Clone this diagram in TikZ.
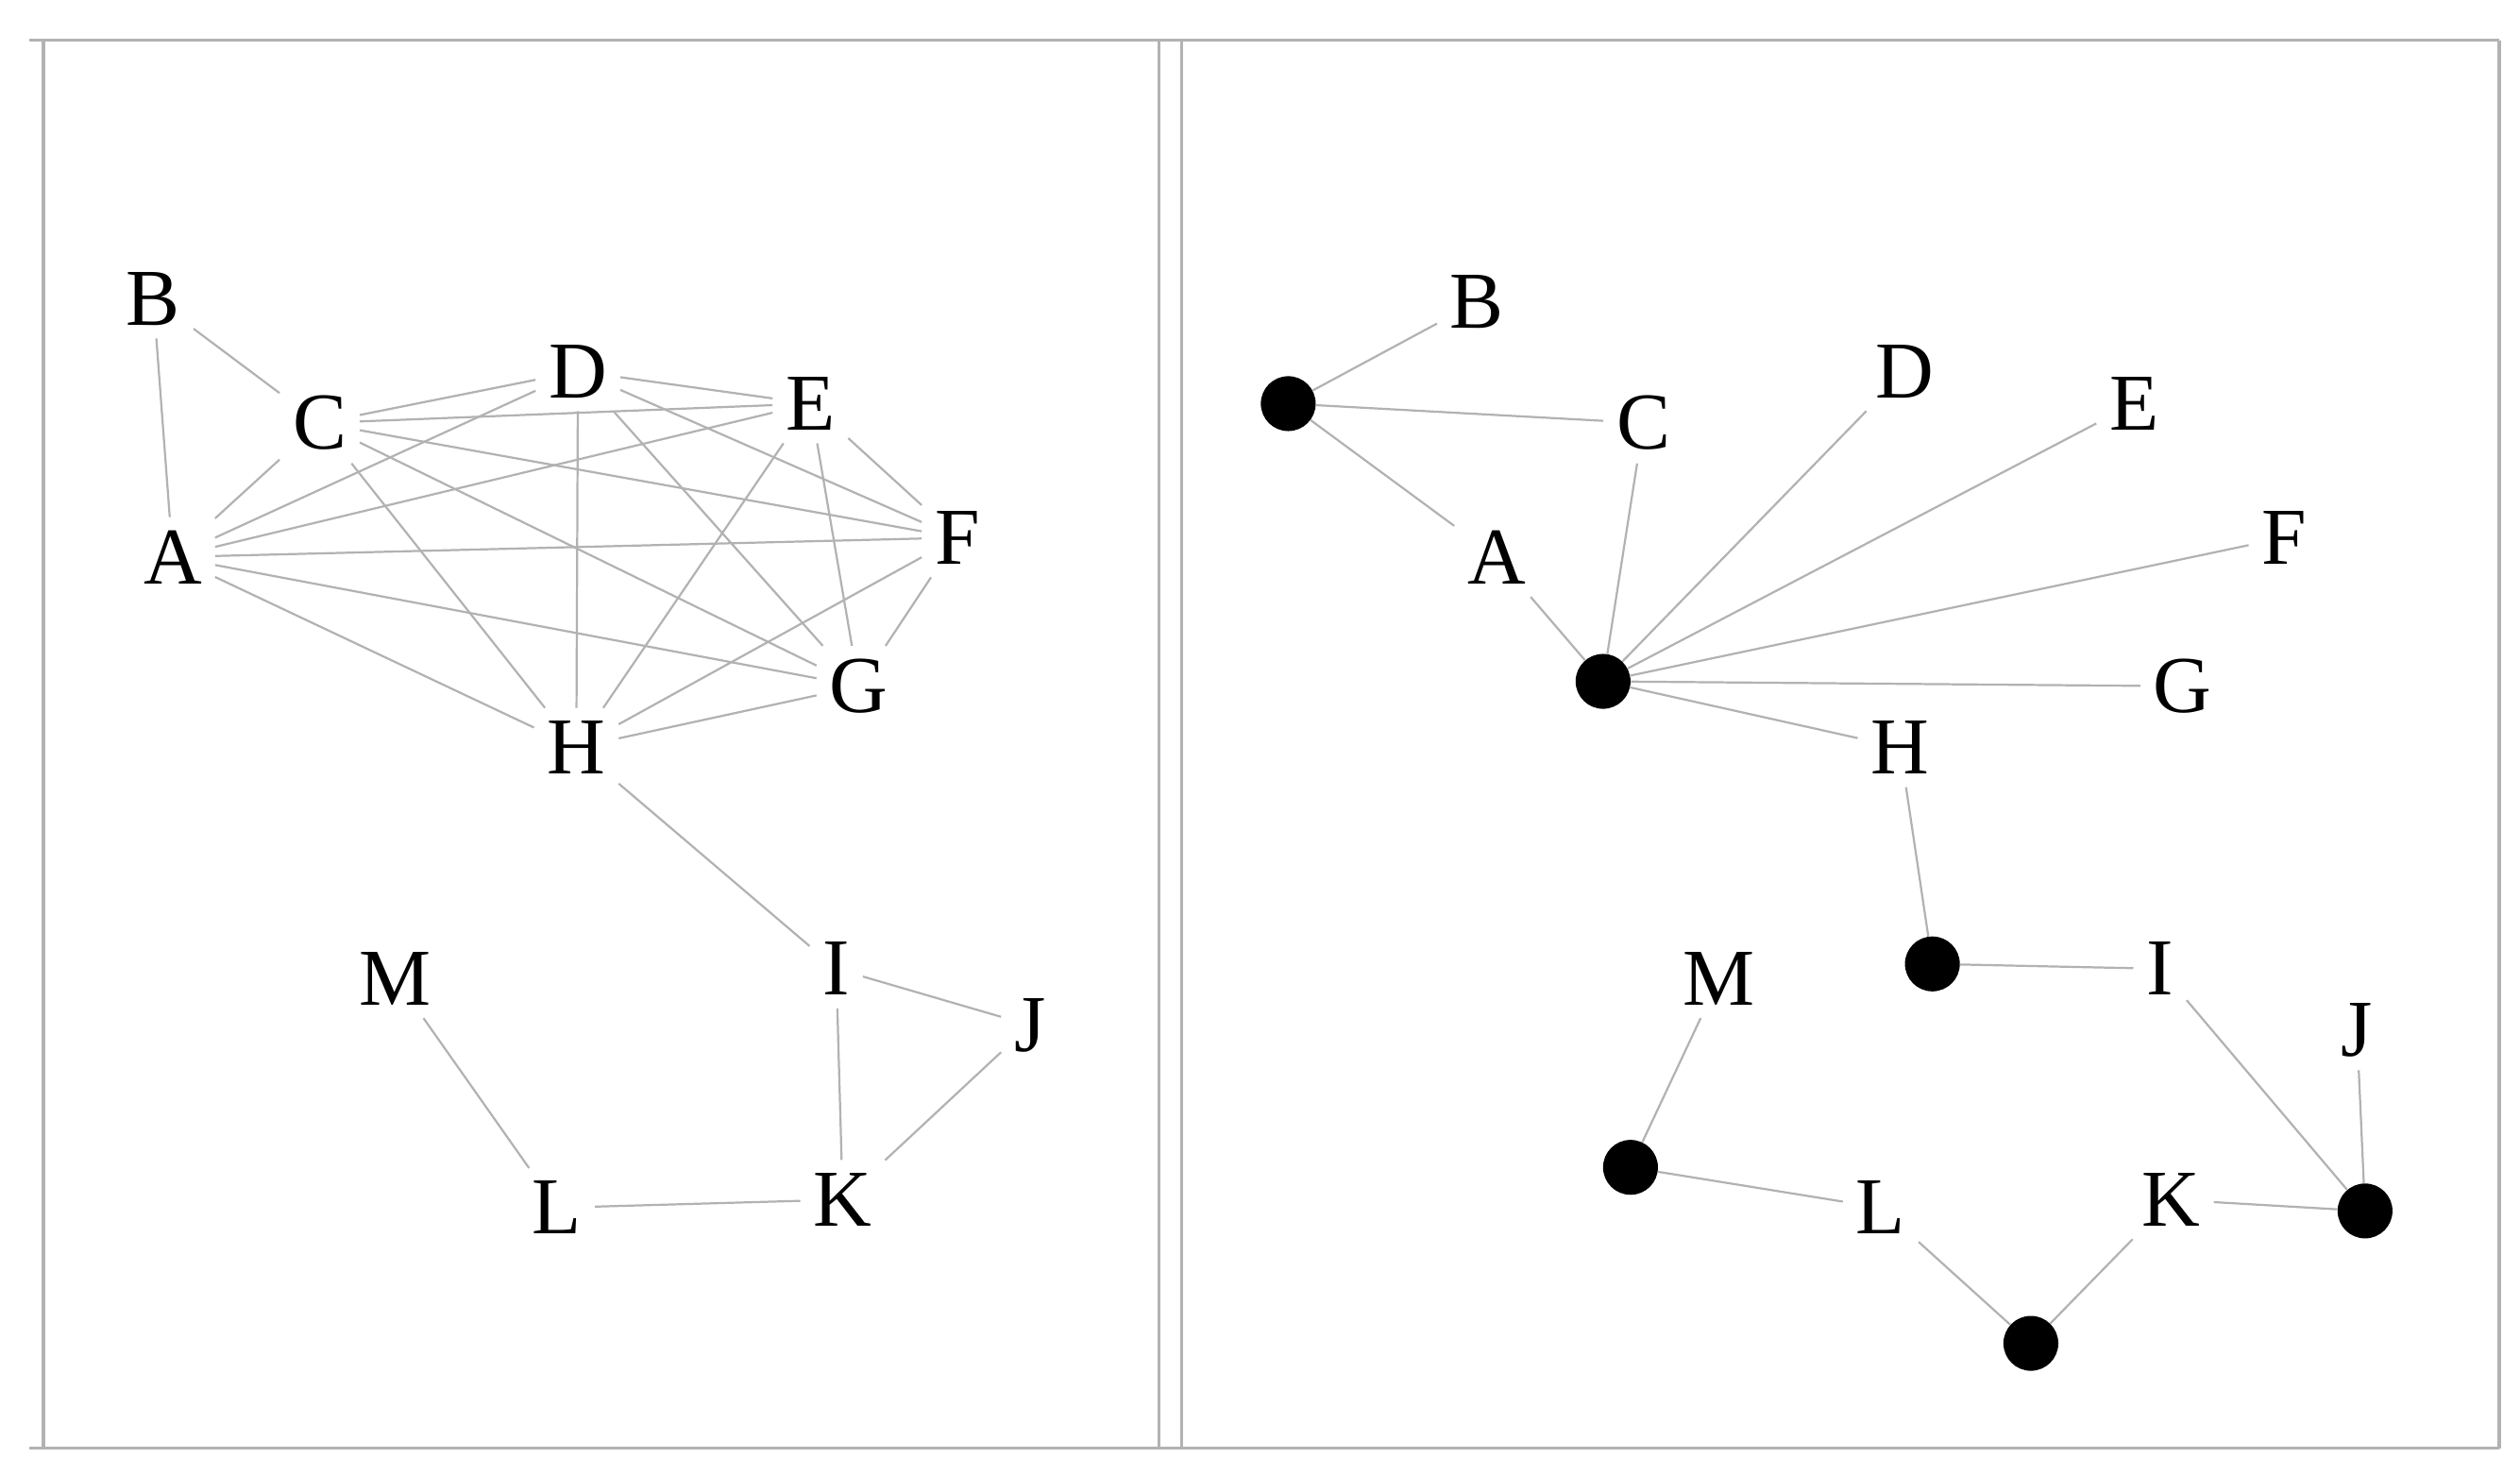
\documentclass[tikz,border=0pt]{standalone}
\usepackage{fontspec}
\setmainfont{Liberation Serif}
\begin{document}
\begin{tikzpicture}[x=1pt,y=-1pt,
  lab/.style={font=\fontsize{50}{50}\selectfont,inner sep=8pt},
  dot/.style={circle,fill=black,inner sep=0pt,minimum size=34pt},
  ed/.style={draw=black!30,line width=1.3pt},
  fr/.style={draw=black!30,line width=2pt}]
\useasboundingbox (0,0) rectangle (1561,913);
\draw[fr] (18,25) -- (1548,25);
\draw[fr] (18,897) -- (1548,897);
\draw[fr] (27,25) -- (27,897);
\draw[fr] (718,25) -- (718,897);
\draw[fr] (732,25) -- (732,897);
\draw[fr] (1548,25) -- (1548,897);
% left
\node[lab] (B) at (95,185) {B};
\node[lab] (C) at (198,262) {C};
\node[lab] (D) at (358,230) {D};
\node[lab] (E) at (502,250) {E};
\node[lab] (A) at (107,345) {A};
\node[lab] (F) at (593,333) {F};
\node[lab] (G) at (532,425) {G};
\node[lab] (H) at (357,463) {H};
\node[lab] (I) at (518,600) {I};
\node[lab] (J) at (638,635) {J};
\node[lab] (M) at (245,606) {M};
\node[lab] (L) at (345,748) {L};
\node[lab] (K) at (522,743) {K};
\foreach \u/\v in {B/C,B/A,A/C,A/D,A/E,A/F,A/G,A/H,C/D,C/E,C/F,C/G,C/H,D/E,D/F,D/G,D/H,E/F,E/G,E/H,F/G,F/H,G/H,H/I,I/J,I/K,J/K,L/K,M/L}
  \draw[ed] (\u) -- (\v);
% right
\node[lab] (rB) at (915,187) {B};
\node[lab] (rC) at (1018,262) {C};
\node[lab] (rD) at (1180,230) {D};
\node[lab] (rE) at (1322,250) {E};
\node[lab] (rF) at (1415,333) {F};
\node[lab] (rG) at (1352,425) {G};
\node[lab] (rH) at (1177,463) {H};
\node[lab] (rA) at (927,345) {A};
\node[lab] (rI) at (1338,600) {I};
\node[lab] (rJ) at (1460,638) {J};
\node[lab] (rM) at (1065,606) {M};
\node[lab] (rL) at (1165,748) {L};
\node[lab] (rK) at (1345,743) {K};
\node[dot] (d1) at (798,250) {};
\node[dot] (d2) at (993,422) {};
\node[dot] (d3) at (1197,597) {};
\node[dot] (d4) at (1010,723) {};
\node[dot] (d5) at (1465,750) {};
\node[dot] (d6) at (1258,832) {};
\foreach \u/\v in {d1/rB,d1/rC,d1/rA,rA/d2,d2/rC,d2/rD,d2/rE,d2/rF,d2/rG,d2/rH,rH/d3,d3/rI,rI/d5,rJ/d5,rK/d5,rM/d4,d4/rL,rL/d6,d6/rK}
  \draw[ed] (\u) -- (\v);
\end{tikzpicture}
\end{document}
